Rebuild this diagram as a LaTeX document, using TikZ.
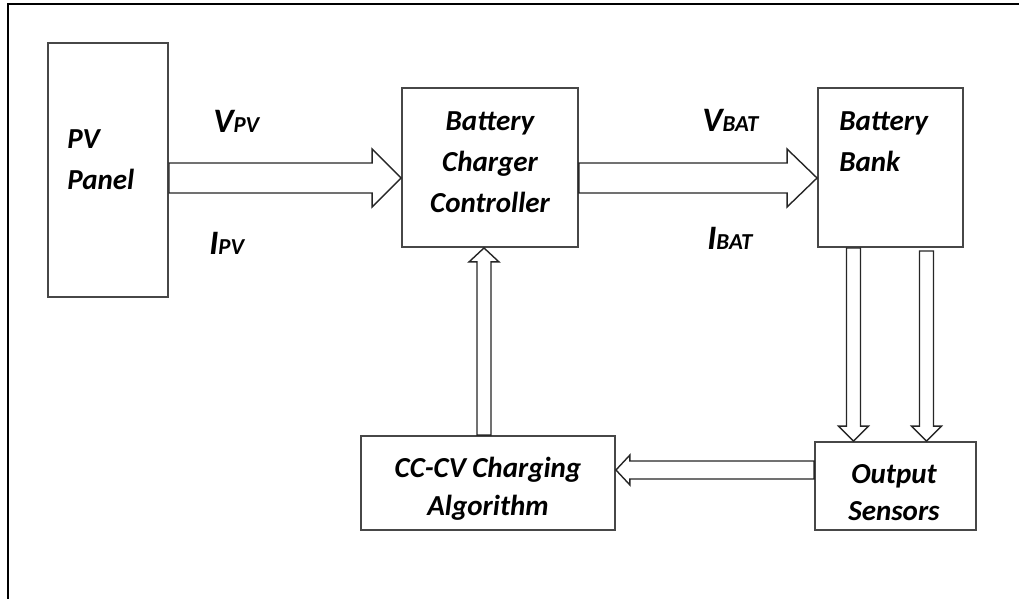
\documentclass[tikz,border=0pt]{standalone}
\usepackage{fontspec}
\setmainfont{Carlito}
\usetikzlibrary{calc}

% hollow block arrow: start, tip, half shaft, half head, head length
\newcommand{\hollowarrow}[5]{%
  \coordinate (ha_base) at ($(#2)!#5!(#1)$);
  \draw[hollow] ($(#1)!#3!90:(#2)$) -- ($(ha_base)!#3!90:(#2)$)
    -- ($(ha_base)!#4!90:(#2)$) -- (#2) -- ($(ha_base)!#4!-90:(#2)$)
    -- ($(ha_base)!#3!-90:(#2)$) -- ($(#1)!#3!-90:(#2)$) -- cycle;}
\newcommand{\sigsub}[1]{{\fontsize{13}{14}\selectfont #1}}

\begin{document}
\begin{tikzpicture}[x=0.02cm,y=-0.02cm]
\tikzset{
  block/.style={rectangle,draw=black!72,line width=1.1pt,inner sep=0pt},
  blocktext/.style={font=\fontsize{16.5}{21.3}\selectfont\bfseries\itshape,inner sep=0pt},
  widetext/.style={font=\fontsize{16.5}{23.3}\selectfont\bfseries\itshape,inner sep=0pt},
  hollow/.style={draw=black!85,line width=0.8pt,fill=white,line join=miter},
  sig/.style={font=\fontsize{19.5}{22}\selectfont\bfseries\itshape,inner sep=0pt}
}
\useasboundingbox (0,0) rectangle (1019,599);
\draw[black,line width=1.1pt] (8,599) -- (8,4) -- (1019,4);

\node[block,minimum width=2.4cm,minimum height=5.08cm] (n_pv) at (108,170) {};
\node[block,minimum width=3.52cm,minimum height=3.18cm] (n_bcc) at (490,167.5) {};
\node[block,minimum width=2.9cm,minimum height=3.18cm] (n_bb) at (890.5,167.5) {};
\node[block,minimum width=3.22cm,minimum height=1.76cm] (n_os) at (895.5,486) {};
\node[block,minimum width=5.08cm,minimum height=1.88cm] (n_cc) at (488,483) {};

\node[widetext,anchor=north west,align=left] (t_pv) at (67,129) {PV\\Panel};
\node[widetext,anchor=north,align=center] (t_bcc) at (490,111) {Battery\\Charger\\Controller};
\node[widetext,anchor=north west,align=left] (t_bb) at (839,111) {Battery\\Bank};
\node[blocktext,anchor=north,align=center] (t_os) at (894,464) {Output\\Sensors};
\node[blocktext,anchor=north,align=center] (t_cc) at (488,457) {CC-CV Charging\\Algorithm};

\node[sig,anchor=base west] (n_vpv) at (213,132) {V\sigsub{PV}};
\node[sig,anchor=base west] (n_ipv) at (209,254) {I\sigsub{PV}};
\node[sig,anchor=base west] (n_vbat) at (702,131) {V\sigsub{BAT}};
\node[sig,anchor=base west] (n_ibat) at (707,249) {I\sigsub{BAT}};

\coordinate (pv_out) at (n_pv.east |- 0,178);
\coordinate (bcc_in) at (n_bcc.west |- pv_out);
\coordinate (bcc_out) at (n_bcc.east |- pv_out);
\coordinate (bb_in) at (n_bb.west |- pv_out);
\coordinate (bb_a) at ($(n_bb.south)+(-37,0)$);
\coordinate (os_a) at (n_os.north -| bb_a);
\coordinate (bb_b) at ($(n_bb.south)+(36,3)$);
\coordinate (os_b) at (n_os.north -| bb_b);
\coordinate (os_out) at ($(n_os.west)+(0,-16)$);
\coordinate (cc_in) at (n_cc.east |- os_out);
\coordinate (cc_top) at ($(n_cc.north)+(-4,0)$);
\coordinate (bcc_bot) at (n_bcc.south -| cc_top);

\hollowarrow{pv_out}{bcc_in}{0.3cm}{0.58cm}{0.58cm}
\hollowarrow{bcc_out}{bb_in}{0.3cm}{0.58cm}{0.6cm}
\hollowarrow{bb_a}{os_a}{0.14cm}{0.3cm}{0.3cm}
\hollowarrow{bb_b}{os_b}{0.14cm}{0.3cm}{0.3cm}
\hollowarrow{os_out}{cc_in}{0.18cm}{0.3cm}{0.28cm}
\hollowarrow{cc_top}{bcc_bot}{0.14cm}{0.3cm}{0.28cm}
\end{tikzpicture}
\end{document}
